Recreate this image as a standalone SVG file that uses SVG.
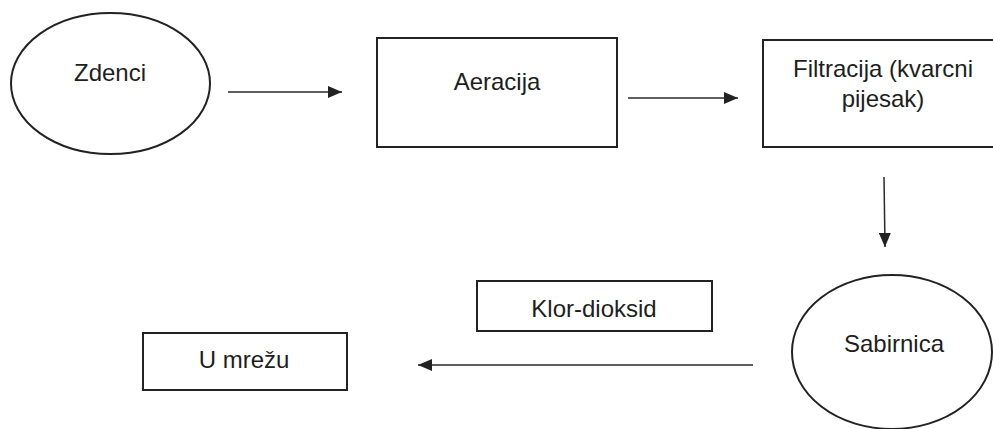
<svg xmlns="http://www.w3.org/2000/svg" width="993" height="429" viewBox="0 0 993 429">
<style>
.shape{fill:#fff;stroke:#222;stroke-width:2}
.lbl{font-family:"Liberation Sans",Arial,sans-serif;font-size:24px;fill:#1e1e1e;text-anchor:middle}
.conn{stroke:#2a2a2a;stroke-width:1.5;fill:none}
</style>
<defs>
<marker id="ah" viewBox="0 0 14 12" refX="14" refY="6" markerWidth="14" markerHeight="12" markerUnits="userSpaceOnUse" orient="auto">
<path d="M0,0 L14,6 L0,12 Z" fill="#222"/>
</marker>
</defs>
<rect width="993" height="429" fill="#fff"/>
<g id="zdenci">
<ellipse class="shape" cx="110.5" cy="83.5" rx="99.5" ry="70.5"/>
<text class="lbl" x="110" y="81">Zdenci</text>
</g>
<g id="aeracija">
<rect class="shape" x="377" y="38" width="240" height="109"/>
<text class="lbl" x="497" y="90">Aeracija</text>
</g>
<g id="filtracija">
<rect class="shape" x="763" y="40" width="245" height="107"/>
<text class="lbl" x="883" y="77">Filtracija (kvarcni</text>
<text class="lbl" x="883" y="107">pijesak)</text>
</g>
<g id="sabirnica">
<ellipse class="shape" cx="892" cy="352" rx="100" ry="77"/>
<text class="lbl" x="894" y="352">Sabirnica</text>
</g>
<g id="klor-dioksid">
<rect class="shape" x="477" y="281" width="235" height="50"/>
<text class="lbl" x="594" y="317">Klor-dioksid</text>
</g>
<g id="u-mrezu">
<rect class="shape" x="143" y="333" width="204" height="57"/>
<text class="lbl" x="244" y="368">U mrežu</text>
</g>
<g id="connectors">
<line class="conn" x1="228" y1="92" x2="342" y2="92" marker-end="url(#ah)"/>
<line class="conn" x1="628" y1="98" x2="738" y2="98" marker-end="url(#ah)"/>
<line class="conn" x1="884" y1="177" x2="885" y2="247" marker-end="url(#ah)"/>
<line class="conn" x1="753" y1="365" x2="418" y2="365" marker-end="url(#ah)"/>
</g>
</svg>
